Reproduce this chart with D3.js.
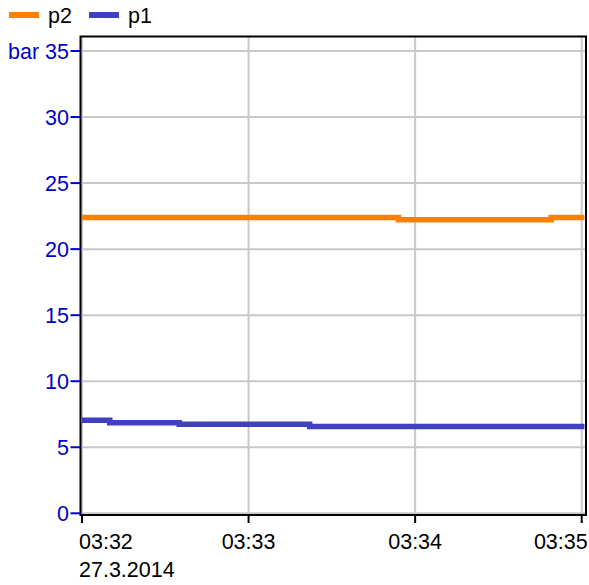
<!DOCTYPE html>
<html>
<head>
<meta charset="utf-8">
<script src="https://cdn.jsdelivr.net/npm/d3@7"></script>
<style>
  html, body { margin: 0; padding: 0; background: #fff; }
  text { font-family: "Liberation Sans", Arial, sans-serif; }
</style>
</head>
<body>
<svg id="chart" width="589" height="585"></svg>
<script>
// ---- data ----
const dateStr = "2014-03-27";
const p2Times = ["03:32:00", "03:33:54", "03:34:49", "03:35:01"];
const p2Values = [22.39, 22.22, 22.39, 22.39];
const p1Times = ["03:32:00", "03:32:10", "03:32:35", "03:33:22", "03:35:01"];
const p1Values = [7.05, 6.86, 6.74, 6.57, 6.57];
const yTicks = [0, 5, 10, 15, 20, 25, 30, 35];
const xTickTimes = ["03:32", "03:33", "03:34", "03:35"];
const xDateLabel = "27.3.2014";
const yUnit = "bar";
const seriesNames = ["p2", "p1"];
const seriesColors = ["#ff8000", "#4040c0"];

// ---- layout ----
const parse = d3.timeParse("%Y-%m-%d %H:%M:%S");
const t = s => parse(dateStr + " " + (s.length === 5 ? s + ":00" : s));

const frame = { left: 80.5, right: 586, top: 36.5, bottom: 515 };
const x = d3.scaleTime().domain([t("03:32"), t("03:35")]).range([82, 581.7]);
const y = d3.scaleLinear().domain([0, 35]).range([513.3, 51]);

const svg = d3.select("#chart");
const fs = 21.5;

svg.append("defs").append("clipPath").attr("id", "clip")
  .append("rect")
  .attr("x", frame.left).attr("y", frame.top)
  .attr("width", frame.right - frame.left).attr("height", frame.bottom - frame.top);

// grid
const grid = svg.append("g");
grid.selectAll("line.h").data(yTicks).join("line")
  .attr("x1", frame.left).attr("x2", frame.right)
  .attr("y1", d => y(d)).attr("y2", d => y(d))
  .attr("stroke", "#c8c8c8").attr("stroke-width", 2);
grid.selectAll("line.v").data(xTickTimes).join("line")
  .attr("x1", d => x(t(d))).attr("x2", d => x(t(d)))
  .attr("y1", frame.top).attr("y2", frame.bottom)
  .attr("stroke", "#c8c8c8").attr("stroke-width", 2);

// series
const series = [
  { times: p2Times, values: p2Values },
  { times: p1Times, values: p1Values }
];
const line = d3.line().x(d => x(d[0])).y(d => y(d[1])).curve(d3.curveStepAfter);
series.forEach((s, i) => {
  const pts = s.times.map((tm, j) => [t(tm), s.values[j]]);
  svg.append("path")
    .attr("clip-path", "url(#clip)")
    .attr("d", line(pts))
    .attr("fill", "none")
    .attr("stroke", seriesColors[i])
    .attr("stroke-width", 5.5);
});

// frame
svg.append("rect")
  .attr("x", frame.left).attr("y", frame.top)
  .attr("width", frame.right - frame.left).attr("height", frame.bottom - frame.top)
  .attr("fill", "none").attr("stroke", "#000").attr("stroke-width", 2);

// y axis ticks and labels
const yAx = svg.append("g");
yAx.selectAll("line").data(yTicks).join("line")
  .attr("x1", 70.5).attr("x2", frame.left)
  .attr("y1", d => y(d)).attr("y2", d => y(d))
  .attr("stroke", "#0000cc").attr("stroke-width", 2);
yAx.selectAll("text").data(yTicks).join("text")
  .attr("x", 69).attr("y", d => y(d) + 7.5)
  .attr("text-anchor", "end")
  .attr("font-size", fs).attr("fill", "#0000cc")
  .text((d, i) => i === yTicks.length - 1 ? yUnit + " " + d : d);

// x axis ticks and labels
const xAx = svg.append("g");
xAx.selectAll("line").data(xTickTimes).join("line")
  .attr("x1", d => x(t(d))).attr("x2", d => x(t(d)))
  .attr("y1", frame.bottom).attr("y2", 523)
  .attr("stroke", "#000").attr("stroke-width", 2);
xAx.selectAll("text").data(xTickTimes).join("text")
  .attr("x", d => x(t(d)))
  .attr("y", 549)
  .attr("text-anchor", (d, i) => i === 0 ? "start" : (i === xTickTimes.length - 1 ? "end" : "middle"))
  .attr("dx", (d, i) => i === 0 ? -3 : (i === xTickTimes.length - 1 ? 6 : 0))
  .attr("font-size", fs).attr("fill", "#000")
  .text(d => d);
xAx.append("text")
  .attr("x", x(t(xTickTimes[0])) - 3).attr("y", 577)
  .attr("font-size", fs).attr("fill", "#000")
  .text(xDateLabel);

// legend
const leg = svg.append("g");
seriesNames.forEach((name, i) => {
  const x0 = 9 + i * 80;
  leg.append("line")
    .attr("x1", x0).attr("x2", x0 + 30)
    .attr("y1", 15).attr("y2", 15)
    .attr("stroke", seriesColors[i]).attr("stroke-width", 6);
  leg.append("text")
    .attr("x", x0 + 39).attr("y", 23)
    .attr("font-size", fs).attr("fill", "#000")
    .text(name);
});
</script>
</body>
</html>
